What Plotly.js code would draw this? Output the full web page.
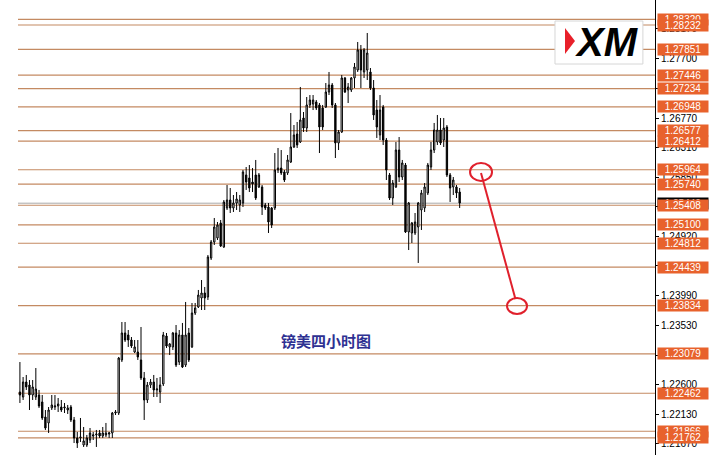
<!DOCTYPE html>
<html>
<head>
<meta charset="utf-8">
<script src="https://cdn.plot.ly/plotly-3.0.1.min.js"></script>
<style>html,body{margin:0;padding:0;background:#fff;}#chart{width:713px;height:472px;}</style>
</head>
<body>
<div id="chart"></div>
<script>
// ---- Data (4-hour GBP/USD candles) ----
const openP = [
1.22481,1.22403,1.22638,1.22591,1.22434,1.22403,1.22434,1.22325,1.22090,1.21996,
1.22231,1.22246,1.22262,1.22246,1.22231,1.22199,1.22246,1.22043,1.21761,1.21761,
1.21651,1.21651,1.21729,1.21792,1.21808,1.21839,1.21792,1.21808,1.21823,1.21839,
1.22152,1.22152,1.22983,1.23406,1.23375,1.23296,1.23108,1.23108,1.22983,1.22701,
1.22356,1.22591,1.22638,1.22513,1.22481,1.22607,1.23359,1.23187,1.23187,1.23406,
1.22951,1.23375,1.22904,1.23406,1.23187,1.23719,1.23813,1.23954,1.24033,1.23970,
1.24581,1.24832,1.24895,1.25130,1.24754,1.25365,1.25490,1.25365,1.25443,1.25412,
1.25443,1.25882,1.25835,1.25772,1.25882,1.25694,1.25694,1.25412,1.25380,1.25365,
1.25365,1.25960,1.25991,1.25929,1.25913,1.26085,1.26321,1.26524,1.26399,1.26775,
1.26618,1.26979,1.26994,1.27026,1.26979,1.26932,1.26947,1.27182,1.27292,1.26979,
1.26383,1.26556,1.27402,1.27214,1.27214,1.27402,1.27527,1.27841,1.27496,1.27527,
1.27496,1.27245,1.26900,1.26509,1.26947,1.26430,1.25882,1.25521,1.25694,1.26273,
1.25850,1.26038,1.24989,1.24973,1.24973,1.25067,1.25333,1.25365,1.25600,1.26007,
1.26273,1.26399,1.26587,1.26430,1.26634,1.25882,1.25694,1.25694,1.25615];
const highP = [
1.22951,1.22716,1.22748,1.22669,1.22669,1.22857,1.22513,1.22434,1.22199,1.22246,
1.22434,1.22434,1.22387,1.22356,1.22309,1.22278,1.22278,1.22090,1.21855,1.22074,
1.21933,1.21808,1.21917,1.21855,1.21886,1.21886,1.21933,1.21996,1.21855,1.22168,
1.22199,1.23030,1.23578,1.23578,1.23453,1.23343,1.23296,1.23296,1.23500,1.22795,
1.22638,1.22685,1.22748,1.22701,1.22716,1.23422,1.23406,1.23249,1.23422,1.23531,
1.23453,1.23563,1.23892,1.23484,1.23876,1.23876,1.24080,1.24236,1.24127,1.24628,
1.24863,1.25208,1.25145,1.25177,1.25490,1.25725,1.25678,1.25568,1.25615,1.25568,
1.25960,1.26007,1.26038,1.25991,1.26117,1.25913,1.25725,1.25443,1.25443,1.25380,
1.26226,1.26305,1.26273,1.25960,1.26195,1.26853,1.26665,1.26712,1.27261,1.26869,
1.27104,1.27135,1.27135,1.27057,1.27010,1.26979,1.27323,1.27496,1.27323,1.27010,
1.26587,1.27449,1.27417,1.27323,1.27417,1.27637,1.27966,1.27919,1.27872,1.28107,
1.27558,1.27370,1.27057,1.27135,1.26979,1.26462,1.25913,1.25803,1.26399,1.26477,
1.26117,1.26070,1.25459,1.25145,1.25286,1.25459,1.25647,1.25756,1.26070,1.26399,
1.26697,1.26822,1.26775,1.26775,1.26665,1.25913,1.25850,1.25725,1.25678];
const lowP = [
1.22309,1.22356,1.22513,1.22199,1.22356,1.22356,1.22231,1.22043,1.21886,1.21839,
1.22199,1.22199,1.22168,1.22168,1.22152,1.22137,1.22011,1.21682,1.21604,1.21698,
1.21620,1.21620,1.21682,1.21729,1.21620,1.21761,1.21761,1.21776,1.21761,1.21761,
1.22121,1.22121,1.22951,1.23265,1.23187,1.23171,1.23092,1.22983,1.22669,1.22043,
1.22309,1.22544,1.22403,1.22403,1.22309,1.22575,1.23171,1.23061,1.23139,1.22873,
1.22904,1.22857,1.22873,1.22951,1.23171,1.23688,1.23798,1.23766,1.23766,1.23923,
1.24550,1.24785,1.24863,1.24754,1.24738,1.25333,1.25286,1.25302,1.25333,1.25302,
1.25380,1.25647,1.25615,1.25615,1.25490,1.25678,1.25255,1.25333,1.24973,1.25051,
1.25333,1.25913,1.25882,1.25772,1.25882,1.26070,1.26305,1.26305,1.26383,1.26556,
1.26556,1.26932,1.26900,1.26900,1.26226,1.26587,1.26932,1.27135,1.26932,1.26148,
1.26273,1.26540,1.27167,1.27010,1.27182,1.27245,1.27496,1.27245,1.27402,1.27370,
1.27214,1.26744,1.26462,1.26430,1.26352,1.25803,1.25490,1.25412,1.25678,1.25772,
1.25803,1.24973,1.24706,1.24816,1.24942,1.24503,1.25020,1.25302,1.25568,1.25960,
1.26226,1.26352,1.26352,1.26321,1.25850,1.25459,1.25568,1.25521,1.25365];
const closeP = [
1.22434,1.22638,1.22560,1.22434,1.22560,1.22528,1.22262,1.22074,1.21917,1.22199,
1.22278,1.22262,1.22293,1.22199,1.22246,1.22231,1.22043,1.21761,1.21682,1.21776,
1.21714,1.21761,1.21839,1.21808,1.21823,1.21792,1.21839,1.21839,1.21839,1.22152,
1.22168,1.23014,1.23406,1.23296,1.23296,1.23202,1.23187,1.23030,1.22701,1.22356,
1.22591,1.22638,1.22513,1.22528,1.22591,1.23375,1.23202,1.23234,1.23406,1.22904,
1.23375,1.22873,1.23375,1.22983,1.23719,1.23798,1.24001,1.24033,1.23954,1.24597,
1.24832,1.25067,1.25098,1.24769,1.25459,1.25490,1.25365,1.25443,1.25506,1.25490,
1.25929,1.25772,1.25678,1.25741,1.25521,1.25882,1.25380,1.25365,1.25145,1.25098,
1.25960,1.25991,1.25913,1.25803,1.26117,1.26321,1.26509,1.26352,1.26744,1.26618,
1.26979,1.27057,1.27057,1.26932,1.26634,1.26634,1.27182,1.27292,1.26979,1.26383,
1.26556,1.27402,1.27182,1.27261,1.27402,1.27574,1.27841,1.27527,1.27841,1.27793,
1.27245,1.26822,1.26634,1.26900,1.26430,1.25960,1.25521,1.25756,1.26273,1.25850,
1.26070,1.24989,1.25443,1.25130,1.25145,1.25443,1.25600,1.25694,1.26038,1.26273,
1.26587,1.26587,1.26383,1.26618,1.25882,1.25678,1.25803,1.25600,1.25443];

// Horizontal support / resistance levels and their labels
const levels = [1.28320,1.28232,1.27851,1.27446,1.27234,1.26948,1.26577,1.26412,1.25964,1.25740,
                1.25408,1.25100,1.24812,1.24439,1.23834,1.23079,1.22462,1.21866,1.21762];
const levelLabels = ["1.28320","1.28232","1.27851","1.27446","1.27234","1.26948","1.26577","1.26412","1.25964","1.25740",
                     "1.25408","1.25100","1.24812","1.24439","1.23834","1.23079","1.22462","1.21866","1.21762"];
// Price-axis ticks (labels fully hidden behind level tags in the reference are left blank)
const tickVals = [1.28170,1.27700,1.27230,1.26770,1.26310,1.25850,1.25390,1.24920,1.24460,1.23990,1.23530,1.23060,1.22600,1.22130,1.21670];
const tickText = ["1.28170","1.27700","","1.26770","1.26310","1.25850","","1.24920","","1.23990","1.23530","","1.22600","1.22130","1.21670"];
// Current bid price
const bidPrice = 1.25440;
const bidLabel = "1.25440";
// Projection: from the marked point down to the target
const projFrom = {bar: 144.7, price: 1.25929};
const projTo = {bar: 156.0, price: 1.23829};
const chartTitle = "镑美四小时图";

const bars = openP.map((_, i) => i);

const trace = {
  type: 'candlestick',
  x: bars, open: openP, high: highP, low: lowP, close: closeP,
  increasing: {line: {color: '#000000', width: 1}, fillcolor: '#ffffff'},
  decreasing: {line: {color: '#000000', width: 1}, fillcolor: '#000000'},
  whiskerwidth: 0,
  hoverinfo: 'skip',
  showlegend: false
};

const lineColor = '#c48a62';
const shapes = [];
levels.forEach(v => shapes.push({type: 'line', xref: 'paper', x0: 0, x1: 1, yref: 'y', y0: v, y1: v,
  line: {color: lineColor, width: 1.2}, layer: 'below'}));
shapes.push({type: 'line', xref: 'paper', x0: 0, x1: 1, yref: 'y', y0: bidPrice, y1: bidPrice,
  line: {color: '#a8a8a8', width: 1}, layer: 'below'});
// logo box
shapes.push({type: 'rect', xref: 'paper', yref: 'paper', x0: 0.843, x1: 0.981, y0: 0.8593, y1: 0.9538,
  fillcolor: '#ffffff', line: {color: '#d6d6d6', width: 1}, layer: 'above'});
shapes.push({type: 'path', xref: 'paper', yref: 'paper',
  path: 'M0.8587,0.9385 L0.8744,0.9099 L0.8587,0.8813 Z', fillcolor: '#e8202a', line: {width: 0}, layer: 'above'});
// projection circles and line
const red = '#e0202c';
shapes.push({type: 'circle', xref: 'x', yref: 'y', x0: projFrom.bar - 3.45, x1: projFrom.bar + 3.45,
  y0: projFrom.price - 0.00141, y1: projFrom.price + 0.00141, line: {color: red, width: 2}});
shapes.push({type: 'circle', xref: 'x', yref: 'y', x0: projTo.bar - 3.14, x1: projTo.bar + 3.14,
  y0: projTo.price - 0.00125, y1: projTo.price + 0.00125, line: {color: red, width: 2}});
shapes.push({type: 'line', xref: 'x', yref: 'y', x0: projFrom.bar, y0: projFrom.price - 0.00016,
  x1: projTo.bar - 0.5, y1: projTo.price + 0.0011, line: {color: red, width: 2}});

const annotations = [];
annotations.push({xref: 'paper', x: 1, xanchor: 'left', xshift: 2, yref: 'y', y: bidPrice, yanchor: 'middle',
  text: bidLabel, showarrow: false, bgcolor: '#000000', font: {color: '#ffffff', size: 10, family: 'Liberation Sans'},
  width: 50, height: 11, borderpad: 0});
levels.forEach((v, i) => annotations.push({xref: 'paper', x: 1, xanchor: 'left', xshift: 2, yref: 'y', y: v, yanchor: 'middle',
  text: levelLabels[i], showarrow: false, bgcolor: '#e8622c', font: {color: '#ffffff', size: 10, family: 'Liberation Sans'},
  width: 50, height: 11, borderpad: 0}));
annotations.push({xref: 'paper', yref: 'paper', x: 0.4835, y: 0.2527, xanchor: 'center', yanchor: 'middle',
  text: '<b>' + chartTitle + '</b>', showarrow: false,
  font: {family: 'Noto Sans CJK SC', size: 15, color: '#2e3192'}});
annotations.push({xref: 'paper', yref: 'paper', x: 0.9247, y: 0.9077, xanchor: 'center', yanchor: 'middle',
  text: '<b><i>XM</i></b>', showarrow: false,
  font: {family: 'Liberation Sans', size: 40, color: '#000000'}});

const layout = {
  width: 713, height: 472,
  margin: {l: 18, r: 58, t: 0, b: 17, pad: 0},
  paper_bgcolor: '#ffffff', plot_bgcolor: '#ffffff',
  font: {family: 'Liberation Sans', size: 10, color: '#000000'},
  showlegend: false,
  boxgap: 0.4,
  xaxis: {range: [-0.6, 199.3], visible: false, rangeslider: {visible: false}, fixedrange: true},
  yaxis: {
    side: 'right', range: [1.21494, 1.28624], tickvals: tickVals, ticktext: tickText,
    ticks: 'outside', ticklen: 3, tickcolor: '#000000', tickwidth: 1,
    showline: true, linecolor: '#000000', linewidth: 1, showgrid: false, zeroline: false,
    tickfont: {family: 'Liberation Sans', size: 10, color: '#000000'}, fixedrange: true
  },
  shapes: shapes,
  annotations: annotations
};

Plotly.newPlot('chart', [trace], layout, {staticPlot: true, displayModeBar: false});
</script>
</body>
</html>
